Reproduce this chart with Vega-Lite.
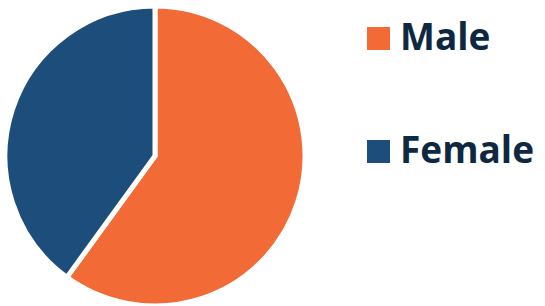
{
  "$schema": "https://vega.github.io/schema/vega-lite/v6.json",
  "width": 310,
  "height": 312,
  "autosize": {"type": "none"},
  "padding": {"left": 0, "top": 0, "right": 235, "bottom": 0},
  "background": "white",
  "data": {"values": [
    {"gender": "Male", "share": 60},
    {"gender": "Female", "share": 40}
  ]},
  "mark": {"type": "arc", "outerRadius": 150, "stroke": "white", "strokeWidth": 5},
  "encoding": {
    "theta": {"field": "share", "type": "quantitative", "stack": true},
    "order": {"field": "gender", "sort": "descending"},
    "color": {
      "field": "gender",
      "type": "nominal",
      "sort": ["Male", "Female"],
      "scale": {"domain": ["Male", "Female"], "range": ["#F26A35", "#1D4E7B"]},
      "legend": {
        "title": null,
        "orient": "none",
        "legendX": 360,
        "legendY": 20,
        "symbolType": "square",
        "symbolSize": 529,
        "symbolStrokeWidth": 0,
        "labelFont": "Open Sans",
        "labelFontSize": 37,
        "labelFontWeight": "bold",
        "labelColor": "#0E2841",
        "labelOffset": 3,
        "rowPadding": 75
      }
    }
  },
  "config": {"view": {"stroke": null}}
}
